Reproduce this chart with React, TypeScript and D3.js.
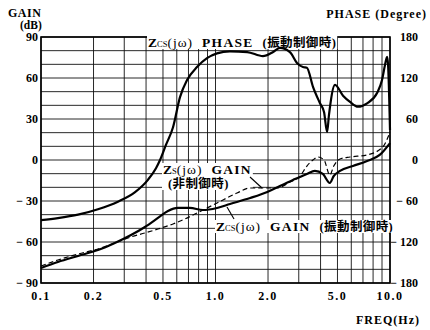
import React, { useEffect, useRef } from "react";
import * as d3 from "d3";

// Axis ticks
const freqTicks = [0.1, 0.2, 0.5, 1, 2, 5, 10];
const freqTickLabels = ["0.1", "0.2", "0.5", "1.0", "2.0", "5.0", "10.0"];
const gainTicks = [90, 60, 30, 0, -30, -60, -90];
const phaseTicks = [180, 120, 60, 0, -60, -120, -180];

// Zcs(jω) phase, vibration control on (degrees)
const phaseFreq = [0.1, 0.125, 0.163, 0.212, 0.276, 0.346, 0.41, 0.456, 0.481, 0.52, 0.571, 0.626, 0.687, 0.783, 0.894, 1.02, 1.21, 1.52, 1.87, 2.14, 2.34, 2.67, 2.93, 3.17, 3.34, 3.62, 3.97, 4.19, 4.36, 4.47, 4.84, 5.38, 5.9, 6.56, 7.39, 8.43, 9.0, 9.36, 9.62, 9.75, 10.0];
const phaseDeg = [-88, -85, -80, -72, -61, -47, -29, -12, 0, 22, 48, 92, 117, 136, 149, 156, 159, 158, 152, 158, 164, 158, 142, 136, 135, 107, 83, 70, 41, 66, 110, 94, 85, 78, 83, 98, 117, 139, 151, 139, 44];

// Zcs(jω) gain, vibration control on (dB)
const zcsFreq = [0.1, 0.125, 0.163, 0.212, 0.265, 0.328, 0.394, 0.468, 0.534, 0.609, 0.714, 0.847, 1.02, 1.21, 1.58, 1.98, 2.34, 2.78, 3.34, 3.71, 4.12, 4.52, 4.76, 5.17, 6.13, 7.39, 8.73, 10.0];
const zcsGain = [-79, -74.6, -70.2, -65.9, -60.7, -54.9, -49, -42.4, -37.3, -35.1, -35.1, -36.6, -35.1, -32.2, -27.8, -23.4, -19, -14.6, -10.2, -8, -10.2, -16.8, -11.7, -8, -4.4, -0.7, 3.7, 12.4];

// Zs(jω) gain, no control (dB)
const zsFreq = [0.1, 0.125, 0.163, 0.212, 0.265, 0.328, 0.394, 0.468, 0.571, 0.667, 0.783, 1.02, 1.33, 1.58, 1.87, 2.25, 2.67, 3.06, 3.34, 3.62, 3.86, 4.19, 4.52, 4.76, 5.17, 5.9, 7.39, 9.09, 10.0];
const zsGain = [-77.6, -73.2, -68.8, -65.1, -60.7, -56.3, -53.4, -50.5, -46.8, -43.2, -38.8, -31.5, -24.1, -20.5, -20.5, -20.5, -16.1, -11.7, -4.4, 0, 2.2, 0, -11, -4.4, 0.7, 2.2, 3.7, 9.5, 20.5];

const W = 430;
const H = 330;
const L = 41;
const R = 390;
const T = 37;
const B = 283;
const FONT = "'Liberation Serif', 'Noto Sans CJK JP', serif";

export default function App() {
  const ref = useRef<SVGSVGElement | null>(null);

  useEffect(() => {
    const svg = d3.select(ref.current);
    svg.selectAll("*").remove();

    const x = d3.scaleLog().domain([0.1, 10]).range([L, R]);
    const yG = d3.scaleLinear().domain([-90, 90]).range([B, T]);
    const yP = d3.scaleLinear().domain([-180, 180]).range([B, T]);

    // log-frequency and 10 dB grid
    const grid = svg.append("g").attr("stroke", "#111").attr("stroke-width", 0.9);
    const vLines: number[] = [];
    for (let i = 1; i <= 10; i++) vLines.push(i * 0.1);
    for (let i = 2; i <= 10; i++) vLines.push(i);
    grid
      .selectAll("line.v")
      .data(vLines)
      .join("line")
      .attr("x1", (d) => x(d))
      .attr("x2", (d) => x(d))
      .attr("y1", T)
      .attr("y2", B);
    grid
      .selectAll("line.h")
      .data(d3.range(-90, 91, 10))
      .join("line")
      .attr("x1", L)
      .attr("x2", R)
      .attr("y1", (d) => yG(d))
      .attr("y2", (d) => yG(d));

    svg
      .append("rect")
      .attr("x", L)
      .attr("y", T)
      .attr("width", R - L)
      .attr("height", B - T)
      .attr("fill", "none")
      .attr("stroke", "#000")
      .attr("stroke-width", 1.6);

    // curve annotations, each on a white box
    const labels = svg.append("g").attr("font-family", FONT).attr("font-weight", "bold").attr("fill", "#000");

    const zLabel = (
      px: number,
      py: number,
      sub: string,
      tail: string,
      cjk: string,
    ) => {
      const g = labels.append("g");
      const t = g.append("text").attr("x", px).attr("y", py).attr("font-size", 13.5);
      t.append("tspan").text("Z");
      t.append("tspan").attr("font-size", 8.5).attr("font-weight", "normal").text(sub);
      t.append("tspan").attr("font-weight", "normal").attr("letter-spacing", 1).text("(jω)");
      t.append("tspan").attr("dx", 9).attr("letter-spacing", 1.3).text(tail);
      if (cjk)
        t.append("tspan")
          .attr("dx", 9)
          .attr("font-size", 12.5)
          .attr("letter-spacing", 0.4)
          .text(cjk);
      return g;
    };

    const boxed = (g: d3.Selection<SVGGElement, unknown, null, undefined>) => {
      const bb = (g.node() as SVGGElement).getBBox();
      g.insert("rect", ":first-child")
        .attr("x", bb.x - 1)
        .attr("y", bb.y + 1)
        .attr("width", bb.width + 2)
        .attr("height", bb.height - 2)
        .attr("fill", "#fff");
    };

    boxed(zLabel(148, 47, "CS", "PHASE", "(振動制御時)"));
    const zs = zLabel(163, 174, "S", "GAIN", "");
    zs.append("text")
      .attr("x", 168)
      .attr("y", 188)
      .attr("font-size", 12.5)
      .attr("letter-spacing", 0.4)
      .text("(非制御時)");
    boxed(zs);
    boxed(zLabel(216, 231, "CS", "GAIN", "(振動制御時)"));

    // leader lines from the labels to their curves
    svg
      .append("g")
      .attr("stroke", "#000")
      .attr("stroke-width", 1.1)
      .selectAll("line")
      .data([
        [250, 177, 262, 188],
        [234, 219, 227, 207],
      ])
      .join("line")
      .attr("x1", (d) => d[0])
      .attr("y1", (d) => d[1])
      .attr("x2", (d) => d[2])
      .attr("y2", (d) => d[3]);

    // curves
    const mk = (fs: number[], vs: number[], ys: d3.ScaleLinear<number, number>) =>
      d3
        .line<number>()
        .x((_, i) => x(fs[i]))
        .y((v) => ys(v))
        .curve(d3.curveMonotoneX)(vs);

    svg
      .append("path")
      .attr("d", mk(zsFreq, zsGain, yG))
      .attr("fill", "none")
      .attr("stroke", "#000")
      .attr("stroke-width", 1.2)
      .attr("stroke-dasharray", "5,3");
    svg
      .append("path")
      .attr("d", mk(zcsFreq, zcsGain, yG))
      .attr("fill", "none")
      .attr("stroke", "#000")
      .attr("stroke-width", 2.2);
    svg
      .append("path")
      .attr("d", mk(phaseFreq, phaseDeg, yP))
      .attr("fill", "none")
      .attr("stroke", "#000")
      .attr("stroke-width", 2.2)
      .attr("stroke-linejoin", "round");

    // axis labels
    const ax = svg.append("g").attr("font-family", FONT).attr("font-weight", "bold").attr("font-size", 12).attr("fill", "#000");
    ax.selectAll("text.g")
      .data(gainTicks)
      .join("text")
      .attr("x", 38)
      .attr("y", (d) => yG(d) + 4)
      .attr("text-anchor", "end")
      .text((d) => (d < 0 ? `− ${-d}` : `${d}`));
    ax.selectAll("text.p")
      .data(phaseTicks)
      .join("text")
      .attr("x", 418)
      .attr("y", (d) => yP(d) + 4)
      .attr("text-anchor", "end")
      .text((d) => (d < 0 ? `− ${-d}` : `${d}`));
    ax.selectAll("text.f")
      .data(freqTicks)
      .join("text")
      .attr("x", (d) => x(d))
      .attr("y", 300)
      .attr("text-anchor", "middle")
      .attr("letter-spacing", 1.5)
      .text((_, i) => freqTickLabels[i]);

    ax.append("text").attr("x", 8).attr("y", 17).attr("letter-spacing", 0.5).text("GAIN");
    ax.append("text").attr("x", 20).attr("y", 29).attr("font-size", 11.5).text("(dB)");
    ax.append("text").attr("x", 427).attr("y", 18).attr("text-anchor", "end").attr("letter-spacing", 1).text("PHASE (Degree)");
    ax.append("text").attr("x", 420).attr("y", 324).attr("text-anchor", "end").attr("letter-spacing", 1).text("FREQ(Hz)");
  }, []);

  return (
    <svg
      ref={ref}
      width={W}
      height={H}
      style={{ position: "absolute", left: 0, top: 0, background: "#fff" }}
    />
  );
}
